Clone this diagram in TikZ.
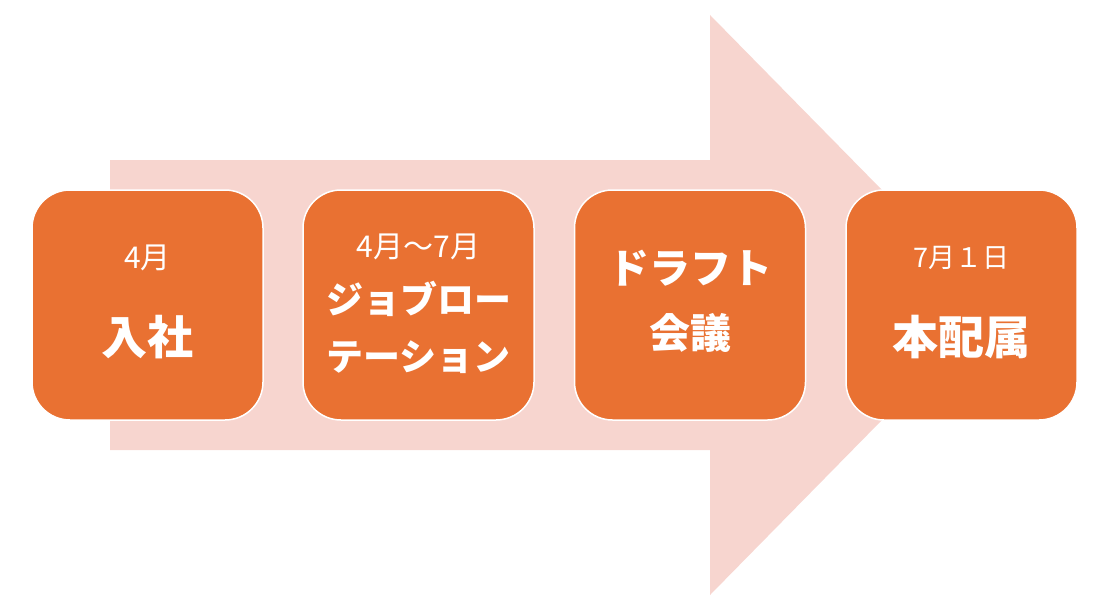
\documentclass[tikz,border=0pt]{standalone}
\usepackage{fontspec}
\newfontfamily\jp{Noto Sans CJK JP}
\definecolor{arrowpink}{HTML}{F7D5CF}
\definecolor{boxorange}{HTML}{E97132}
\begin{document}
\begin{tikzpicture}[x=1pt,y=-1pt,
  stepbox/.style={draw=white,line width=1.5pt,fill=boxorange,rounded corners=38pt,
    minimum width=231pt,minimum height=230pt,inner sep=0pt},
  smalltxt/.style={text=white,inner sep=0pt,font=\jp\fontsize{30}{34}\selectfont},
  midtxt/.style={text=white,inner sep=0pt,font=\jp\bfseries\fontsize{37}{42}\selectfont},
  midbtxt/.style={text=white,inner sep=0pt,font=\jp\bfseries\fontsize{41}{46}\selectfont},
  bigtxt/.style={text=white,inner sep=0pt,font=\jp\bfseries\fontsize{46}{52}\selectfont}]
\useasboundingbox (0,0) rectangle (1095,610);
\fill[arrowpink] (110,160) -- (710,160) -- (710,15) -- (995,305) -- (710,595) -- (710,450) -- (110,450) -- cycle;
\node[stepbox] (b1) at (147.5,305) {};
\node[stepbox] (b2) at (418.5,305) {};
\node[stepbox] (b3) at (690,305) {};
\node[stepbox] (b4) at (961.5,305) {};
\node[smalltxt] (t1a) at (147.5,258) {4月};
\node[bigtxt] (t1b) at (147.5,337) {入社};
\node[smalltxt] (t2a) at (418.5,247) {4月〜7月};
\node[midtxt] (t2b) at (418.5,299) {ジョブロー};
\node[midtxt] (t2c) at (418.5,357) {テーション};
\node[midbtxt] (t3a) at (690,268) {ドラフト};
\node[midbtxt] (t3b) at (690,333) {会議};
\node[smalltxt,font=\jp\fontsize{27}{32}\selectfont] (t4a) at (961.5,258) {7月１日};
\node[bigtxt] (t4b) at (961.5,337) {本配属};
\end{tikzpicture}
\end{document}
